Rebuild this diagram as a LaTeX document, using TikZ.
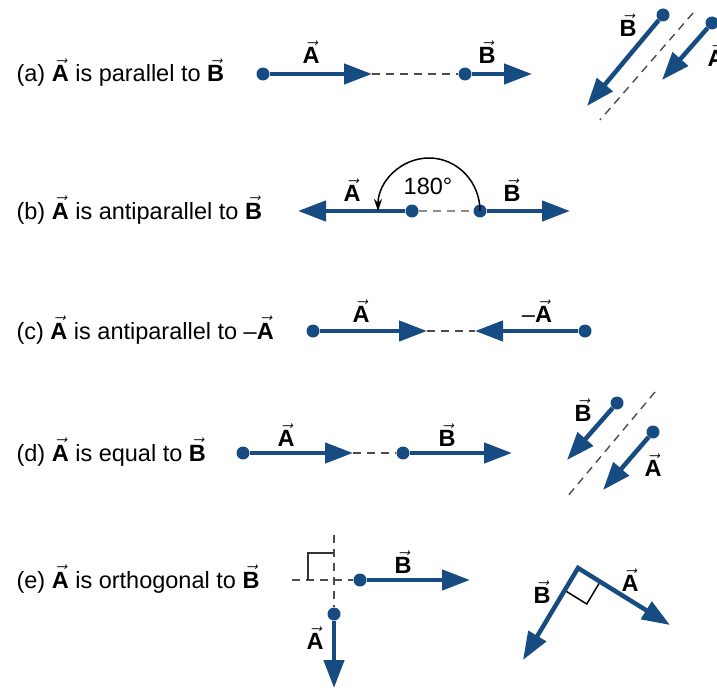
\documentclass[tikz,border=0pt]{standalone}
\usepackage{fontspec}
\setmainfont{Liberation Sans}
\usetikzlibrary{positioning, arrows.meta, calc}
\definecolor{vecblue}{RGB}{22,76,130}
\newcommand{\vv}[1]{\ensuremath{\vec{\textbf{#1}}}}
\tikzset{
  vec/.style={line width=4.5pt, vecblue, -{Triangle[length=28pt, width=20pt]}},
  dot/.style={circle, fill=vecblue, inner sep=0pt, minimum size=13pt},
  guide/.style={dash pattern=on 8pt off 6pt, line width=1.4pt, black!70},
  lbl/.style={font=\fontsize{23.5}{27}\selectfont},
}

\begin{document}
\begin{tikzpicture}[x=1pt, y=-1pt]
    \useasboundingbox (0,0) rectangle (717,690);
    % (a) parallel
    \node (ta) [lbl, anchor=base west] at (13,82) {(a) \vv{A} is parallel to \vv{B}};
    \node (aA) [dot] at (263,74) {};
    \coordinate (aAt) at (372,74);
    \node (aB) [dot] at (465,74) {};
    \coordinate (aBt) at (532,74);
    \draw [guide] (aAt) -- (aB);
    \draw [vec] (aA) -- (aAt);
    \draw [vec] (aB) -- (aBt);
    \node (laA) [lbl] at (311,52) {\vv{A}};
    \node (laB) [lbl] at (487,52) {\vv{B}};
    \coordinate (g1) at (693,13);
    \coordinate (g2) at (600,120);
    \draw [guide] (g1) -- (g2);
    \node (aB2) [dot] at (663,15) {};
    \coordinate (aB2t) at (587,106);
    \node (aA2) [dot] at (712,23) {};
    \coordinate (aA2t) at (662,80);
    \draw [vec] (aB2) -- (aB2t);
    \draw [vec] (aA2) -- (aA2t);
    \node (laB2) [lbl] at (628,25) {\vv{B}};
    \node (laA2) [lbl] at (716,55) {\vv{A}};
    % (b) antiparallel
    \node (tb) [lbl, anchor=base west] at (13,219) {(b) \vv{A} is antiparallel to \vv{B}};
    \node (bA) [dot] at (412,211) {};
    \coordinate (bAt) at (298,211);
    \node (bB) [dot] at (480,211) {};
    \coordinate (bBt) at (570,211);
    \draw [guide, black!45] (bA) -- (bB);
    \draw [vec] (bA) -- (bAt);
    \draw [vec] (bB) -- (bBt);
    \draw [line width=1.5pt, -{Stealth[length=12pt, width=8pt]}] (bB.center) arc [start angle=0, end angle=180, x radius=51pt, y radius=53pt];
    \node (lbA) [lbl] at (352,190) {\vv{A}};
    \node (lbB) [lbl] at (512,190) {\vv{B}};
    \node (ang) [lbl] at (428,186) {180°};
    % (c) antiparallel to -A
    \node (tc) [lbl, anchor=base west] at (13,339) {(c) \vv{A} is antiparallel to --\vv{A}};
    \node (cA) [dot] at (313,331) {};
    \coordinate (cAt) at (427,331);
    \node (cN) [dot] at (585,331) {};
    \coordinate (cNt) at (475,331);
    \draw [guide] (cAt) -- (cNt);
    \draw [vec] (cA) -- (cAt);
    \draw [vec] (cN) -- (cNt);
    \node (lcA) [lbl] at (361,311) {\vv{A}};
    \node (lcN) [lbl] at (537,311) {--\vv{A}};
    % (d) equal
    \node (td) [lbl, anchor=base west] at (13,461) {(d) \vv{A} is equal to \vv{B}};
    \node (dA) [dot] at (243,453) {};
    \coordinate (dAt) at (353,453);
    \node (dB) [dot] at (403,453) {};
    \coordinate (dBt) at (512,453);
    \draw [guide] (dAt) -- (dB);
    \draw [vec] (dA) -- (dAt);
    \draw [vec] (dB) -- (dBt);
    \node (ldA) [lbl] at (286,435) {\vv{A}};
    \node (ldB) [lbl] at (447,435) {\vv{B}};
    \coordinate (h1) at (655,392);
    \coordinate (h2) at (567,497);
    \draw [guide] (h1) -- (h2);
    \node (dB2) [dot] at (617,403) {};
    \coordinate (dB2t) at (567,460);
    \node (dA2) [dot] at (653,432) {};
    \coordinate (dA2t) at (603,490);
    \draw [vec] (dB2) -- (dB2t);
    \draw [vec] (dA2) -- (dA2t);
    \node (ldB2) [lbl] at (583,410) {\vv{B}};
    \node (ldA2) [lbl] at (653,465) {\vv{A}};
    % (e) orthogonal
    \node (te) [lbl, anchor=base west] at (13,588) {(e) \vv{A} is orthogonal to \vv{B}};
    \node (eB) [dot] at (360,580) {};
    \coordinate (eBt) at (470,580);
    \node (eA) [dot] at (334,614) {};
    \coordinate (eAt) at (334,688);
    \coordinate (k1) at (292,580);
    \coordinate (k2) at (334,535);
    \draw [guide] (k1) -- (eB);
    \draw [guide] (k2) -- (eA);
    \draw [line width=1.5pt, black!80] (308,580) -- (308,553) -- (334,553);
    \draw [vec] (eB) -- (eBt);
    \draw [vec] (eA) -- (eAt);
    \node (leB) [lbl] at (403,562) {\vv{B}};
    \node (leA) [lbl] at (315,638) {\vv{A}};
    \coordinate (V) at (578,568);
    \coordinate (eA2t) at (670,625);
    \coordinate (eB2t) at (523,660);
    \coordinate (sq1) at ($(V)!26pt!(eB2t)$);
    \coordinate (sq2) at ($(V)!26pt!(eA2t)$);
    \draw [line width=1.5pt] (sq1) -- ($(sq1)+(sq2)-(V)$) -- (sq2);
    \draw [vec, {Triangle[length=28pt, width=20pt]}-{Triangle[length=28pt, width=20pt]}, line join=miter] (eB2t) -- (V) -- (eA2t);
    \node (leA2) [lbl] at (630,580) {\vv{A}};
    \node (leB2) [lbl] at (542,592) {\vv{B}};
\end{tikzpicture}
\end{document}
